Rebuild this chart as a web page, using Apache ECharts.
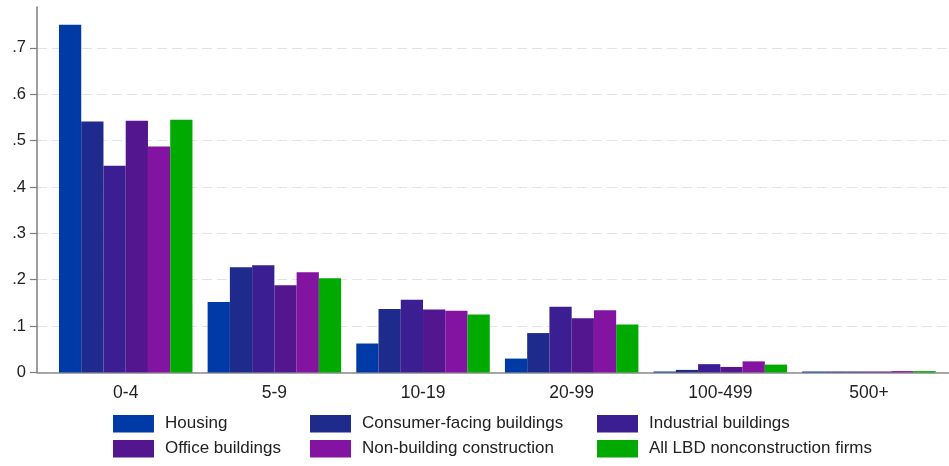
<!DOCTYPE html>
<html>
<head>
<meta charset="utf-8">
<script src="https://cdn.jsdelivr.net/npm/echarts@6/dist/echarts.min.js"></script>
<style>
  html, body { margin: 0; padding: 0; background: #fff; }
  #chart { width: 949px; height: 466px; }
</style>
</head>
<body>
<div id="chart"></div>
<script>
const sizeClasses = ["0-4", "5-9", "10-19", "20-99", "100-499", "500+"];
const seriesNames = [
  "Housing",
  "Consumer-facing buildings",
  "Industrial buildings",
  "Office buildings",
  "Non-building construction",
  "All LBD nonconstruction firms",
];
const seriesColors = ["#003aa6", "#1e2a8c", "#3b1f92", "#53168f", "#8313a1", "#00aa00"];

const housing = [0.750, 0.152, 0.0625, 0.030, 0.0013, 0.0008];
const consumerFacing = [0.541, 0.227, 0.137, 0.085, 0.0056, 0.0008];
const industrial = [0.446, 0.231, 0.157, 0.142, 0.018, 0.0015];
const office = [0.543, 0.188, 0.136, 0.117, 0.012, 0.0012];
const nonBuilding = [0.487, 0.216, 0.133, 0.134, 0.024, 0.003];
const allNonconstruction = [0.545, 0.203, 0.125, 0.1035, 0.017, 0.003];
const seriesValues = [housing, consumerFacing, industrial, office, nonBuilding, allNonconstruction];

const yTicks = [0, 0.1, 0.2, 0.3, 0.4, 0.5, 0.6, 0.7];
const yMax = 0.788;

const font = "'Liberation Sans', Arial, sans-serif";
const chart = echarts.init(document.getElementById("chart"), null, { renderer: "canvas" });

function legendColumn(names, left) {
  return {
    orient: "vertical",
    left: left,
    top: 415,
    padding: 0,
    itemWidth: 41,
    itemHeight: 17.5,
    itemGap: 7.5,
    icon: "rect",
    selectedMode: false,
    data: names,
    textStyle: { fontFamily: font, fontSize: 17, color: "#222", padding: [0, 0, 0, 6] },
  };
}

const isTick = (v) => yTicks.some((t) => Math.abs(t - v) < 1e-6);

chart.setOption({
  animation: false,
  grid: [
    { left: 37, right: 0, top: 7, bottom: 93.5 },
    { left: 51.4, right: 5.7, top: 7, bottom: 93.5 },
  ],
  xAxis: [
    {
      gridIndex: 0,
      type: "value",
      min: 0,
      max: 1,
      axisLine: { show: true, lineStyle: { color: "#8c8c8c", width: 1.5 } },
      axisTick: { show: false },
      axisLabel: { show: false },
      splitLine: { show: false },
    },
    {
      gridIndex: 1,
      type: "category",
      data: sizeClasses,
      axisLine: { show: false },
      axisTick: { show: false },
      axisLabel: { fontFamily: font, fontSize: 17.5, color: "#222", margin: 12 },
    },
  ],
  yAxis: [
    {
      gridIndex: 0,
      type: "value",
      min: 0,
      max: yMax,
      interval: 0.1,
      axisLine: { show: true, lineStyle: { color: "#7f7f7f", width: 1.5 } },
      axisTick: { show: true, length: 7, lineStyle: { color: "#7f7f7f", width: 1.2 } },
      axisLabel: {
        showMaxLabel: false,
        fontFamily: font,
        fontSize: 16.5,
        color: "#222",
        margin: 11,
        formatter: (v) => (!isTick(v) ? "" : v === 0 ? "0" : v.toFixed(1).replace(/^0/, "")),
      },
      splitLine: {
        show: true,
        lineStyle: {
          color: ["#e3e3e3", "#e3e3e3", "#e3e3e3", "#e3e3e3", "#e3e3e3", "#e3e3e3", "#e3e3e3", "#e3e3e3", "rgba(0,0,0,0)"],
          type: [10, 5],
          width: 1.2,
        },
      },
    },
    { gridIndex: 1, type: "value", min: 0, max: yMax, show: false },
  ],
  legend: [
    legendColumn([seriesNames[0], seriesNames[3]], 113),
    legendColumn([seriesNames[1], seriesNames[4]], 310),
    legendColumn([seriesNames[2], seriesNames[5]], 597),
  ],
  series: seriesNames.map((name, i) => ({
    name: name,
    type: "bar",
    xAxisIndex: 1,
    yAxisIndex: 1,
    data: seriesValues[i],
    barGap: 0,
    barCategoryGap: "10.2%",
    barMinHeight: 1,
    itemStyle: { color: seriesColors[i] },
  })),
});
</script>
</body>
</html>
